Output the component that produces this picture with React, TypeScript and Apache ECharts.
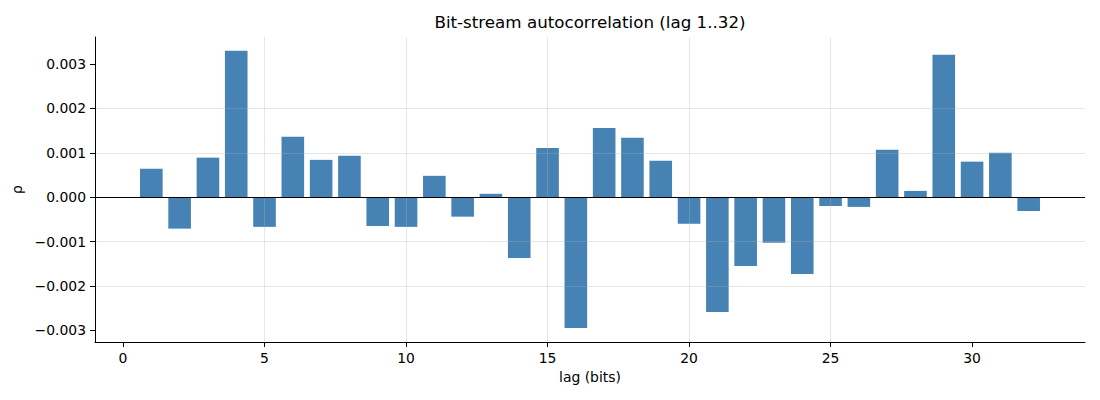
import React, { useEffect, useRef } from "react";
import * as echarts from "echarts";

const lags: number[] = Array.from({ length: 32 }, (_, i) => i + 1);
const rho: number[] = [
  0.00064, -0.00071, 0.00089, 0.0033, -0.00067, 0.00136, 0.00084, 0.00093,
  -0.00065, -0.00067, 0.00048, -0.00044, 0.000075, -0.00137, 0.00111, -0.00295,
  0.00156, 0.00134, 0.00082, -0.0006, -0.00259, -0.00155, -0.00103, -0.00173,
  -0.0002, -0.00022, 0.00107, 0.00014, 0.00321, 0.0008, 0.001, -0.00031,
];
const xTicks: number[] = [0, 5, 10, 15, 20, 25, 30];
const yTicks: number[] = [-0.003, -0.002, -0.001, 0, 0.001, 0.002, 0.003];

const FONT = "DejaVu Sans";
const GRID_COLOR = "rgba(176,176,176,0.32)";

export default function App() {
  const ref = useRef<HTMLDivElement>(null);
  useEffect(() => {
    if (!ref.current) return;
    const chart = echarts.init(ref.current, null, { renderer: "svg" });
    const xMin = -0.99;
    const xMax = 33.99;
    const yMin = -0.003265;
    const yMax = 0.003609;
    const fmtY = (v: number) => {
      const s = Math.abs(v).toFixed(3);
      return v < -1e-12 ? "\u2212" + s : s;
    };
    chart.setOption({
      animation: false,
      backgroundColor: "#ffffff",
      textStyle: { fontFamily: FONT },
      title: {
        text: "Bit-stream autocorrelation (lag 1..32)",
        left: 590,
        top: 13,
        padding: 0,
        textAlign: "center",
        textStyle: { fontFamily: FONT, fontSize: 16.7, fontWeight: "normal", color: "#000" },
      },
      grid: { left: 95, right: 15, top: 37, bottom: 58, outerBoundsMode: "none" },
      xAxis: {
        type: "value",
        min: xMin,
        max: xMax,
        z: 3,
        name: "lag (bits)",
        nameLocation: "middle",
        nameGap: 28,
        nameTextStyle: { fontFamily: FONT, fontSize: 13.9, color: "#000" },
        axisLine: { show: true, onZero: false, lineStyle: { color: "#000", width: 1 } },
        axisTick: { show: true, customValues: xTicks, length: 5, lineStyle: { color: "#000", width: 1 } },
        axisLabel: {
          show: true,
          customValues: xTicks,
          margin: 9,
          fontFamily: FONT,
          fontSize: 13.9,
          color: "#000",
          formatter: (v: number) => String(v),
        },
        splitLine: {
          show: true,
          showMinLine: false,
          showMaxLine: false,
          lineStyle: { color: GRID_COLOR, width: 1 },
        },
      },
      yAxis: {
        type: "value",
        min: yMin,
        max: yMax,
        z: 3,
        name: "\u03c1",
        nameLocation: "middle",
        nameGap: 68,
        nameRotate: 90,
        nameTextStyle: { fontFamily: FONT, fontSize: 13.9, color: "#000" },
        axisLine: { show: true, onZero: false, lineStyle: { color: "#000", width: 1 } },
        axisTick: { show: true, customValues: yTicks, length: 5, lineStyle: { color: "#000", width: 1 } },
        axisLabel: {
          show: true,
          customValues: yTicks,
          margin: 9,
          fontFamily: FONT,
          fontSize: 13.9,
          color: "#000",
          formatter: fmtY,
        },
        splitLine: {
          show: true,
          showMinLine: false,
          showMaxLine: false,
          lineStyle: { color: GRID_COLOR, width: 1 },
        },
      },
      series: [
        {
          type: "bar",
          data: lags.map((l, i) => [l, rho[i]]),
          barWidth: 22.6,
          itemStyle: { color: "#4682b4" },
          z: 2,
          markLine: {
            silent: true,
            symbol: "none",
            label: { show: false },
            lineStyle: { color: "#000", width: 1, type: "solid" },
            data: [{ yAxis: 0 }],
            z: 5,
          },
        },
      ],
    });
    return () => chart.dispose();
  }, []);
  return (
    <div
      ref={ref}
      style={{ position: "absolute", left: 0, top: 0, width: 1100, height: 400, background: "#fff" }}
    />
  );
}
